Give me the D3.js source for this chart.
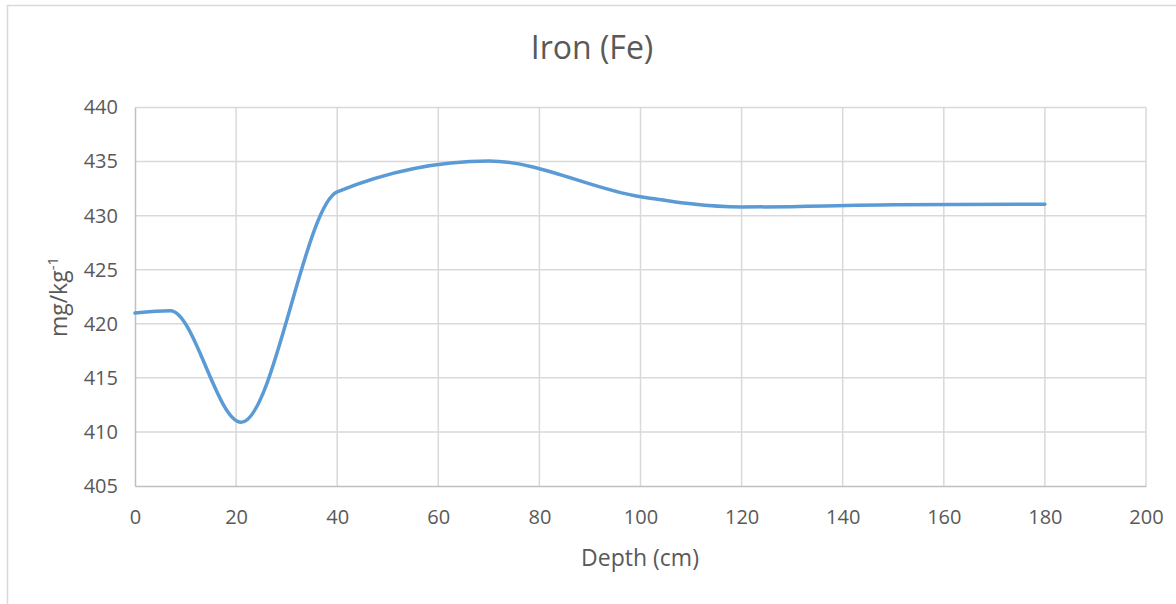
<!DOCTYPE html>
<html>
<head>
<meta charset="utf-8">
<script src="https://cdn.jsdelivr.net/npm/d3@7"></script>
<style>
  html, body { margin: 0; padding: 0; background: #fff; }
  svg { display: block; }
  text { font-family: "Open Sans", "DejaVu Sans", sans-serif; fill: #595959; }
</style>
</head>
<body>
<svg id="chart" width="1176" height="604"></svg>
<script>
// Data
const depths = [0, 7, 21, 40, 70, 100, 120, 150, 180];
const ironValues = [421.0, 421.2, 410.9, 432.2, 435.05, 431.75, 430.8, 431.0, 431.05];
const xTicks = [0, 20, 40, 60, 80, 100, 120, 140, 160, 180, 200];
const yTicks = [405, 410, 415, 420, 425, 430, 435, 440];
const chartTitle = "Iron (Fe)";
const xTitle = "Depth (cm)";

const svg = d3.select("#chart");
const plot = { left: 135, right: 1146, top: 107.5, bottom: 486 };

// Outer chart border (extends past the right/bottom edge)
svg.append("rect")
  .attr("x", 7.5).attr("y", 5.5)
  .attr("width", 1300).attr("height", 800)
  .attr("fill", "none").attr("stroke", "#d9d9d9").attr("stroke-width", 1.5);

const x = d3.scaleLinear().domain([0, 200]).range([plot.left, plot.right]);
const y = d3.scaleLinear().domain([405, 440]).range([plot.bottom, plot.top]);

// Gridlines
const grid = svg.append("g");
grid.selectAll("line.v").data(xTicks.filter(d => d > 0)).join("line")
  .attr("x1", d => x(d)).attr("x2", d => x(d))
  .attr("y1", plot.top).attr("y2", plot.bottom)
  .attr("stroke", "#d9d9d9").attr("stroke-width", 1.5);
grid.selectAll("line.h").data(yTicks.filter(d => d > 405)).join("line")
  .attr("x1", plot.left).attr("x2", plot.right)
  .attr("y1", d => y(d)).attr("y2", d => y(d))
  .attr("stroke", "#d9d9d9").attr("stroke-width", 1.5);

// Axes
const xAxis = svg.append("g").attr("transform", `translate(0,${plot.bottom})`)
  .call(d3.axisBottom(x).tickValues(xTicks).tickSize(0).tickPadding(24).tickFormat(d3.format("d")));
const yAxis = svg.append("g").attr("transform", `translate(${plot.left},0)`)
  .call(d3.axisLeft(y).tickValues(yTicks).tickSize(0).tickPadding(17).tickFormat(d3.format("d")));
[xAxis, yAxis].forEach(a => {
  a.select(".domain").attr("stroke", "#bfbfbf").attr("stroke-width", 1.5);
  a.selectAll("text").attr("font-size", 20).attr("fill", "#595959")
    .attr("font-family", '"Open Sans", sans-serif');
});

// Line
const line = d3.line()
  .x((d, i) => x(depths[i]))
  .y(d => y(d))
  .curve(d3.curveMonotoneX);
svg.append("path")
  .datum(ironValues)
  .attr("d", line)
  .attr("fill", "none")
  .attr("stroke", "#5b9bd5")
  .attr("stroke-width", 3.5)
  .attr("stroke-linecap", "round")
  .attr("stroke-linejoin", "round");

// Title
svg.append("text")
  .attr("x", 592).attr("y", 59)
  .attr("text-anchor", "middle")
  .attr("font-size", 32)
  .text(chartTitle);

// X axis title
svg.append("text")
  .attr("x", 640).attr("y", 566)
  .attr("text-anchor", "middle")
  .attr("font-size", 23)
  .text(xTitle);

// Y axis title with superscript
const yt = svg.append("text")
  .attr("transform", "translate(67,297) rotate(-90)")
  .attr("text-anchor", "middle")
  .attr("font-size", 23);
yt.append("tspan").text("mg/kg");
yt.append("tspan").attr("font-size", 15).attr("dy", -9).text("-1");
</script>
</body>
</html>
